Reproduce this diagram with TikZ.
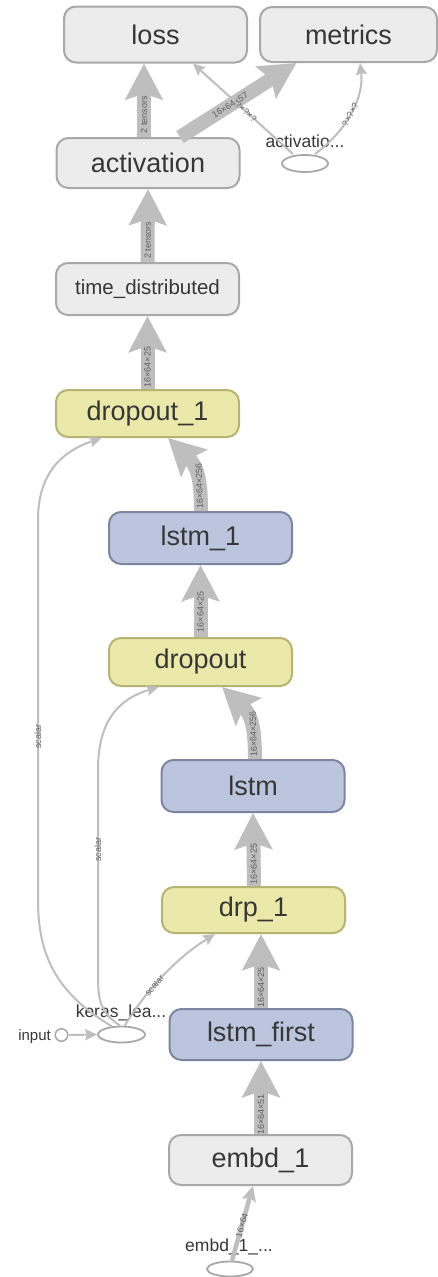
\documentclass[tikz,border=0pt]{standalone}
\usepackage{fontspec}
\setmainfont{Liberation Sans}
\usetikzlibrary{arrows.meta,shapes.geometric}
\definecolor{edgec}{RGB}{190,190,190}
\definecolor{gfill}{RGB}{236,236,236}
\definecolor{gline}{RGB}{168,168,168}
\definecolor{yfill}{RGB}{234,233,170}
\definecolor{yline}{RGB}{182,180,112}
\definecolor{bfill}{RGB}{187,198,222}
\definecolor{bline}{RGB}{124,134,160}
\definecolor{txt}{RGB}{55,55,55}
\definecolor{lbl}{RGB}{95,95,95}
\begin{document}
\begin{tikzpicture}[x=1pt,y=-1pt,
  box/.style={rounded corners=12pt, line width=2pt, minimum width=183pt, minimum height=50pt, inner sep=0pt, text=txt, font=\fontsize{27}{27}\selectfont},
  gbox/.style={box, fill=gfill, draw=gline},
  ybox/.style={box, fill=yfill, draw=yline},
  bbox/.style={box, fill=bfill, draw=bline},
  oval/.style={ellipse, draw=gline, line width=1.8pt, minimum width=46pt, minimum height=17pt, inner sep=0pt, fill=white},
  ovtext/.style={text=txt, font=\fontsize{17.5}{17.5}\selectfont, inner sep=0pt, anchor=base},
  bigedge/.style={draw=edgec, line width=14pt, -{Stealth[length=36pt,width=37pt,inset=6pt]}},
  midedge/.style={draw=edgec, line width=4.5pt, -{Stealth[length=15pt,width=14pt,inset=3pt]}},
  thinedge/.style={draw=edgec, line width=2pt, -{Stealth[length=12pt,width=11pt,inset=2pt]}},
  elabel/.style={font=\fontsize{9}{9}\selectfont, text=lbl, inner sep=0pt}
]
\fill[white] (0,0) rectangle (438,1277);
\useasboundingbox (0,0) rectangle (438,1277);

% main nodes
\node[gbox, minimum height=56pt] (loss) at (155.5,34.5) {loss};
\node[gbox, minimum width=177pt, minimum height=55pt] (metrics) at (348.5,34.5) {metrics};
\node[gbox] (act) at (148,163) {activation};
\node[gbox, minimum height=52pt, font=\fontsize{20.5}{20.5}\selectfont] (td) at (147.5,289) {time\_distributed};
\node[ybox, minimum height=47pt] (d1) at (147.5,413.5) {dropout\_1};
\node[bbox, minimum height=52pt] (l1) at (200.5,538) {lstm\_1};
\node[ybox, minimum height=48pt] (d0) at (200.5,662) {dropout};
\node[bbox, minimum height=52pt] (l0) at (253,786) {lstm};
\node[ybox, minimum height=46pt] (drp) at (253.5,910) {drp\_1};
\node[bbox, minimum height=51pt] (lf) at (261,1034.5) {lstm\_first};
\node[gbox] (emb) at (260.5,1160) {embd\_1};

% ellipses and their names
\node[oval] (aov) at (305,163.5) {};
\node[ovtext] (aovt) at (305,147) {activatio...};
\node[oval, minimum width=47pt, minimum height=16pt] (keras) at (121.5,1034.5) {};
\node[ovtext] (kerast) at (121,1017) {keras\_lea...};
\node[oval, minimum height=15pt] (eov) at (230,1269) {};
\node[ovtext] (eovt) at (229,1251) {embd\_1\_...};
\node[circle, draw=gline, line width=1.5pt, minimum size=12.5pt, inner sep=0pt, fill=white] (inp) at (61.5,1035) {};
\node[anchor=base east, inner sep=0pt, text=txt, font=\fontsize{15}{15}\selectfont] (inpt) at (51,1040) {input};

% top edges
\draw[bigedge] ([xshift=-4pt]act.north) -- node[elabel, rotate=90, pos=0.3]{2 tensors} ([xshift=-11.5pt]loss.south);
\draw[bigedge] ([xshift=32pt]act.north) -- node[elabel, sloped, pos=0.43]{16×64×57} ([xshift=-52pt]metrics.south);
\draw[thinedge] ([xshift=-12pt]aov.north) -- node[elabel, sloped, pos=0.47]{?×?×?} ([xshift=37.5pt]loss.south);
\draw[thinedge] ([xshift=10pt]aov.north) .. controls (350,128) and (364,95) .. node[elabel, sloped, pos=0.46]{?×?×?} ([xshift=11.5pt]metrics.south);

% main chain
\draw[bigedge] (td.north) -- node[elabel, rotate=90, pos=0.3]{2 tensors} (act.south);
\draw[bigedge] (d1.north) -- node[elabel, rotate=90, pos=0.3]{16×64×25} (td.south);
\draw[bigedge] ([xshift=0.5pt]l1.north) .. controls (201,478) and (197,466) .. node[elabel, rotate=92, pos=0.3]{16×64×256} ([xshift=20.5pt]d1.south);
\draw[bigedge] (d0.north) -- node[elabel, rotate=90, pos=0.35]{16×64×25} (l1.south);
\draw[bigedge] ([xshift=2pt]l0.north) .. controls (255,726) and (251,714) .. node[elabel, rotate=92, pos=0.3]{16×64×256} ([xshift=21.5pt]d0.south);
\draw[bigedge] ([xshift=0.5pt]drp.north) -- node[elabel, rotate=90, pos=0.3]{16×64×25} (l0.south);
\draw[bigedge] (lf.north) -- node[elabel, rotate=90, pos=0.28]{16×64×25} ([xshift=7.5pt]drp.south);
\draw[bigedge] ([xshift=0.5pt]emb.north) -- node[elabel, rotate=90, pos=0.27]{16×64×51} (lf.south);
\draw[midedge] ([xshift=2pt]eov.north) -- node[elabel, sloped, pos=0.47]{16×64} ([xshift=-7.5pt]emb.south);

% scalar edges
\draw[thinedge] (inp.east) -- (keras.west);
\draw[thinedge] (keras.140) .. controls (60,995) and (38,960) .. (38,900) -- node[elabel, rotate=90, pos=0.43]{scalar} (38,520) .. controls (38,475) and (60,452) .. ([xshift=-46pt]d1.south);
\draw[thinedge] (keras.100) .. controls (100,1012) and (98,1000) .. (98,975) -- node[elabel, rotate=90, pos=0.61]{scalar} (98,770) .. controls (98,725) and (115,700) .. ([xshift=-42pt]d0.south);
\draw[thinedge] (keras.70) .. controls (140,1000) and (170,962) .. node[elabel, sloped, pos=0.45]{scalar} ([xshift=-38.5pt]drp.south);
\end{tikzpicture}
\end{document}
